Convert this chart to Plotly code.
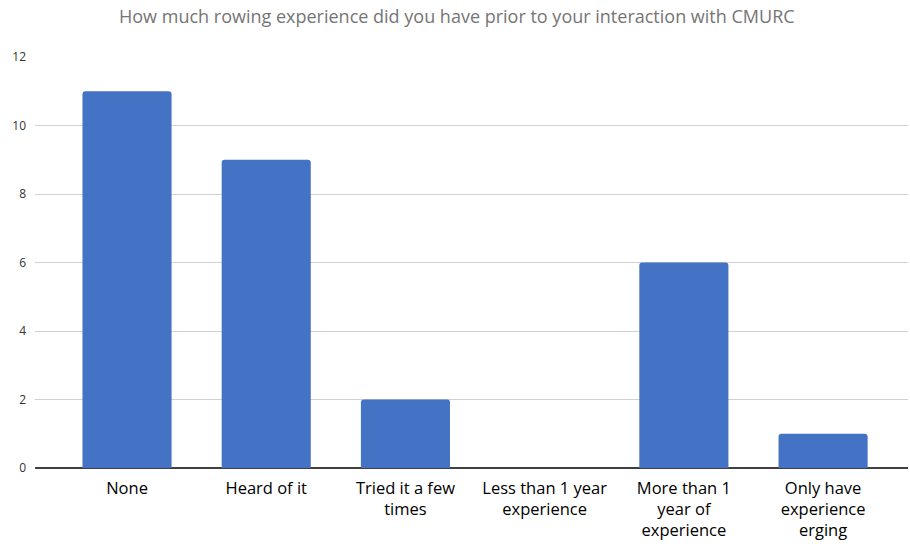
import plotly.graph_objects as go

categories = ["None", "Heard of it", "Tried it a few<br>times", "Less than 1 year<br>experience",
              "More than 1<br>year of<br>experience", "Only have<br>experience<br>erging"]
values = [11, 9, 2, 0, 6, 1]
y_ticks = [0, 2, 4, 6, 8, 10, 12]

fig = go.Figure(go.Bar(
    x=list(range(len(categories))), y=values,
    marker=dict(color="#4472C4", cornerradius=3, line=dict(width=0)),
    width=0.64,
))
fig.update_layout(
    width=910, height=550,
    margin=dict(l=35, r=2, t=57, b=82),
    paper_bgcolor="white", plot_bgcolor="white",
    showlegend=False,
    title=dict(text="How much rowing experience did you have prior to your interaction with CMURC",
               x=0.502, xanchor="center", y=0.97, yanchor="middle",
               font=dict(family="Open Sans", size=18, color="#757575")),
    font=dict(family="Open Sans"),
)
fig.update_xaxes(
    tickmode="array", tickvals=list(range(len(categories))), ticktext=categories,
    range=[-0.661, 5.61], showgrid=False, zeroline=False, showline=False,
    tickfont=dict(family="Open Sans", size=16.5, color="#000000"), ticks="",
    ticklabelstandoff=8,
)
fig.update_yaxes(
    range=[0, 12], tickvals=y_ticks, showgrid=True, gridcolor="#D0D0D0", gridwidth=1,
    zeroline=True, zerolinecolor="#404040", zerolinewidth=1.5,
    tickfont=dict(family="Open Sans", size=12, color="#333333"), ticks="",
    ticklabelstandoff=8, showline=False,
)
fig.write_html("out.html")
